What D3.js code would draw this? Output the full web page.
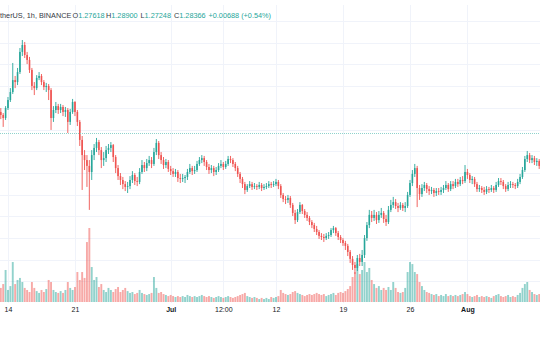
<!DOCTYPE html>
<html><head><meta charset="utf-8">
<script src="https://cdn.jsdelivr.net/npm/d3@7"></script>
<style>html,body{margin:0;padding:0;background:#fff;overflow:hidden}</style>
</head><body><svg id="c" width="540" height="340"></svg>
<script>
// 6-hour candles, first candle 2021-06-13 06:00 UTC
const opens=[1.381,1.367,1.353,1.399,1.436,1.473,1.528,1.519,1.565,1.658,
1.690,1.644,1.621,1.575,1.501,1.491,1.538,1.547,1.519,1.496,
1.501,1.482,1.353,1.390,1.408,1.390,1.404,1.381,1.390,1.335,
1.381,1.427,1.381,1.335,1.252,1.182,1.159,1.132,1.104,1.182,
1.215,1.242,1.205,1.159,1.168,1.205,1.215,1.228,1.173,1.122,
1.085,1.067,1.048,1.035,1.039,1.067,1.090,1.062,1.058,1.104,
1.136,1.122,1.145,1.159,1.141,1.196,1.238,1.182,1.159,1.136,
1.150,1.118,1.108,1.095,1.104,1.076,1.072,1.076,1.081,1.104,
1.122,1.108,1.113,1.141,1.159,1.168,1.150,1.127,1.113,1.122,
1.104,1.113,1.132,1.141,1.127,1.141,1.164,1.159,1.141,1.122,
1.095,1.072,1.048,1.021,1.039,1.048,1.035,1.039,1.035,1.044,
1.030,1.035,1.039,1.048,1.044,1.048,1.058,1.039,0.998,0.979,
0.975,0.984,0.952,0.915,0.882,0.919,0.952,0.924,0.906,0.892,
0.873,0.859,0.841,0.827,0.809,0.804,0.799,0.809,0.813,0.836,
0.845,0.822,0.804,0.790,0.776,0.763,0.735,0.703,0.675,0.661,
0.707,0.689,0.721,0.799,0.859,0.906,0.892,0.906,0.882,0.906,
0.915,0.887,0.873,0.929,0.952,0.965,0.947,0.938,0.952,0.938,
0.947,0.998,1.053,1.095,1.122,1.030,1.002,1.030,1.044,1.025,
1.016,1.021,1.007,1.016,1.012,1.021,1.030,1.044,1.025,1.048,
1.039,1.058,1.048,1.067,1.062,1.104,1.090,1.067,1.072,1.048,
1.025,1.030,1.021,1.012,1.025,1.021,1.030,1.021,1.044,1.062,
1.058,1.039,1.025,1.044,1.048,1.044,1.039,1.058,1.081,1.113,
1.164,1.182,1.159,1.168,1.150,1.155];
const highs=[1.399,1.376,1.408,1.450,1.491,1.607,1.547,1.584,1.676,1.713,
1.704,1.658,1.635,1.584,1.519,1.551,1.565,1.556,1.528,1.515,
1.510,1.491,1.408,1.427,1.418,1.418,1.413,1.404,1.399,1.395,
1.441,1.431,1.390,1.344,1.270,1.205,1.182,1.159,1.205,1.233,
1.261,1.252,1.219,1.196,1.224,1.233,1.242,1.233,1.182,1.136,
1.099,1.081,1.062,1.058,1.085,1.108,1.099,1.081,1.122,1.159,
1.150,1.164,1.178,1.173,1.215,1.256,1.247,1.196,1.173,1.164,
1.159,1.132,1.122,1.118,1.113,1.095,1.095,1.090,1.118,1.141,
1.132,1.132,1.155,1.173,1.182,1.178,1.159,1.141,1.136,1.132,
1.127,1.145,1.159,1.150,1.155,1.178,1.178,1.168,1.150,1.132,
1.104,1.081,1.058,1.048,1.062,1.058,1.053,1.048,1.058,1.053,
1.048,1.053,1.062,1.058,1.062,1.072,1.067,1.048,1.007,0.993,
0.998,0.993,0.961,0.929,0.933,0.965,0.956,0.933,0.919,0.901,
0.882,0.869,0.855,0.836,0.822,0.818,0.822,0.827,0.845,0.855,
0.850,0.832,0.813,0.799,0.786,0.772,0.744,0.716,0.689,0.721,
0.726,0.744,0.813,0.873,0.929,0.924,0.929,0.919,0.924,0.938,
0.924,0.906,0.947,0.975,0.989,0.979,0.961,0.965,0.961,0.965,
1.012,1.067,1.113,1.141,1.132,1.044,1.048,1.058,1.053,1.039,
1.035,1.030,1.030,1.030,1.035,1.044,1.062,1.053,1.062,1.062,
1.072,1.072,1.081,1.085,1.136,1.118,1.099,1.085,1.081,1.058,
1.044,1.039,1.035,1.039,1.035,1.044,1.039,1.058,1.076,1.076,
1.067,1.048,1.058,1.062,1.058,1.053,1.072,1.095,1.127,1.178,
1.201,1.192,1.182,1.178,1.168,1.164];
const lows=[1.348,1.312,1.344,1.390,1.427,1.464,1.491,1.505,1.556,1.639,
1.630,1.602,1.561,1.482,1.459,1.482,1.528,1.505,1.482,1.473,
1.436,1.298,1.335,1.376,1.372,1.376,1.362,1.358,1.284,1.321,
1.372,1.362,1.316,1.224,1.021,1.113,1.035,0.929,1.067,1.159,
1.196,1.182,1.122,1.132,1.150,1.187,1.196,1.150,1.099,1.067,
1.044,1.025,1.016,1.007,1.025,1.053,1.044,1.039,1.048,1.095,
1.104,1.108,1.132,1.122,1.132,1.182,1.164,1.141,1.118,1.122,
1.104,1.090,1.081,1.081,1.058,1.053,1.058,1.053,1.067,1.095,
1.090,1.095,1.104,1.132,1.145,1.132,1.113,1.095,1.099,1.085,
1.090,1.104,1.122,1.113,1.118,1.132,1.145,1.127,1.108,1.081,
1.053,1.030,1.002,1.012,1.030,1.021,1.025,1.021,1.025,1.016,
1.021,1.025,1.030,1.030,1.035,1.039,1.025,0.984,0.965,0.956,
0.961,0.938,0.901,0.864,0.873,0.910,0.910,0.892,0.878,0.859,
0.845,0.827,0.813,0.795,0.790,0.781,0.790,0.795,0.804,0.822,
0.809,0.790,0.776,0.763,0.744,0.716,0.684,0.652,0.633,0.647,
0.670,0.670,0.707,0.786,0.845,0.873,0.878,0.864,0.869,0.892,
0.869,0.855,0.864,0.919,0.938,0.933,0.919,0.929,0.924,0.919,
0.938,0.989,1.039,1.081,0.942,0.975,0.989,1.016,1.007,0.998,
1.002,0.989,0.993,0.998,0.998,1.007,1.021,1.012,1.016,1.025,
1.030,1.035,1.039,1.048,1.053,1.072,1.053,1.048,1.035,1.012,
1.012,1.007,0.998,1.002,1.007,1.012,1.007,1.012,1.035,1.044,
1.025,1.012,1.016,1.030,1.030,1.025,1.030,1.048,1.072,1.104,
1.150,1.145,1.145,1.136,1.132,1.118];
const closes=[1.367,1.353,1.399,1.436,1.473,1.528,1.519,1.565,1.658,1.690,
1.644,1.621,1.575,1.501,1.491,1.538,1.547,1.519,1.496,1.501,
1.482,1.353,1.390,1.408,1.390,1.404,1.381,1.390,1.335,1.381,
1.427,1.381,1.335,1.252,1.182,1.159,1.132,1.104,1.182,1.215,
1.242,1.205,1.159,1.168,1.205,1.215,1.228,1.173,1.122,1.085,
1.067,1.048,1.035,1.039,1.067,1.090,1.062,1.058,1.104,1.136,
1.122,1.145,1.159,1.141,1.196,1.238,1.182,1.159,1.136,1.150,
1.118,1.108,1.095,1.104,1.076,1.072,1.076,1.081,1.104,1.122,
1.108,1.113,1.141,1.159,1.168,1.150,1.127,1.113,1.122,1.104,
1.113,1.132,1.141,1.127,1.141,1.164,1.159,1.141,1.122,1.095,
1.072,1.048,1.021,1.039,1.048,1.035,1.039,1.035,1.044,1.030,
1.035,1.039,1.048,1.044,1.048,1.058,1.039,0.998,0.979,0.975,
0.984,0.952,0.915,0.882,0.919,0.952,0.924,0.906,0.892,0.873,
0.859,0.841,0.827,0.809,0.804,0.799,0.809,0.813,0.836,0.845,
0.822,0.804,0.790,0.776,0.763,0.735,0.703,0.675,0.661,0.707,
0.689,0.721,0.799,0.859,0.906,0.892,0.906,0.882,0.906,0.915,
0.887,0.873,0.929,0.952,0.965,0.947,0.938,0.952,0.938,0.947,
0.998,1.053,1.095,1.122,1.030,1.002,1.030,1.044,1.025,1.016,
1.021,1.007,1.016,1.012,1.021,1.030,1.044,1.025,1.048,1.039,
1.058,1.048,1.067,1.062,1.104,1.090,1.067,1.072,1.048,1.025,
1.030,1.021,1.012,1.025,1.021,1.030,1.021,1.044,1.062,1.058,
1.039,1.025,1.044,1.048,1.044,1.039,1.058,1.081,1.113,1.164,
1.182,1.159,1.168,1.150,1.155,1.132];
const volumes=[7.6,9.7,17.3,6.5,8.6,21.6,9.7,11.9,13.0,10.8,
7.6,6.5,5.4,10.8,7.6,5.9,4.9,6.5,5.4,7.0,
11.9,10.8,6.5,5.4,4.9,5.9,4.9,6.5,10.8,7.6,
6.5,8.1,16.2,11.9,16.2,13.0,32.4,40.0,18.9,11.9,
13.5,8.1,9.7,6.5,5.4,7.6,6.5,5.4,7.0,8.1,
5.4,6.5,7.6,5.9,4.9,5.4,4.3,4.9,6.5,4.9,
4.3,3.8,4.3,4.9,13.5,7.6,4.9,5.4,4.3,3.8,
3.2,3.8,3.2,2.7,3.2,2.7,3.2,2.7,3.8,3.2,
2.7,3.2,2.7,3.2,3.8,3.2,2.7,3.2,2.7,2.2,
2.7,3.2,2.7,2.2,2.7,3.2,2.7,2.2,2.7,3.2,
3.8,4.3,4.9,3.2,2.7,2.2,2.7,2.2,1.6,2.2,
1.6,2.2,1.6,2.7,2.2,2.7,3.2,6.5,4.9,4.3,
3.8,4.3,5.4,5.9,4.9,4.3,3.8,3.2,3.8,4.3,
3.8,4.3,4.9,4.3,3.8,4.3,3.2,3.8,4.3,4.9,
3.8,4.9,5.4,4.9,5.9,7.0,8.6,13.5,16.2,20.5,
15.1,17.3,21.6,16.2,18.4,11.9,9.7,7.6,8.6,6.5,
7.6,6.5,8.1,6.5,10.8,7.6,5.4,4.9,5.4,7.6,
16.2,21.6,20.5,16.2,15.1,10.8,8.6,6.5,5.4,4.9,
4.3,3.8,4.3,3.2,3.8,3.2,4.3,3.2,3.8,3.2,
3.8,3.2,3.8,4.3,5.4,4.3,3.2,2.7,3.2,3.8,
2.7,3.2,2.7,3.2,2.7,2.2,3.2,3.8,4.3,3.2,
2.7,3.2,3.8,2.7,3.2,2.7,3.8,4.9,7.6,9.7,
10.8,6.5,5.4,4.3,3.8,4.3];
const tickDates=[Date.UTC(2021,5,14),Date.UTC(2021,5,21),Date.UTC(2021,6,1),Date.UTC(2021,6,6,12),Date.UTC(2021,6,12),Date.UTC(2021,6,19),Date.UTC(2021,6,26),Date.UTC(2021,7,1)];
const tickLabels=["14","21","Jul","12:00","12","19","26","Aug"];
const gridPrices=[0.6,0.7,0.8,0.9,1.0,1.1,1.2,1.3,1.4,1.5,1.6,1.7,1.8];
const symbolText="therUS, 1h, BINANCE";
const legendKeys=["O","H","L","C"];
const legendVals=["1.27618","1.28900","1.27248","1.28366"];
const changeText="+0.00688 (+0.54%)";
const lastPrice=1.28366;

const UP="#26a69a", DOWN="#ef5350";
const startMs=Date.UTC(2021,5,13,6), stepMs=6*3600e3;
const data=closes.map((c,i)=>({t:new Date(startMs+i*stepMs),o:opens[i],h:highs[i],l:lows[i],c:c,v:volumes[i]}));

const svg=d3.select("#c");
const x=d3.scaleTime().domain([new Date(Date.UTC(2021,5,13,4)),new Date(Date.UTC(2021,7,8,14))]).range([0,540]);
const y=d3.scaleLinear().domain([0.6,1.8]).range([281.2,21.15]);
const yv=d3.scaleLinear().domain([0,40]).range([302,228]);

// grid
const grid=svg.append("g").attr("stroke","#f0f3fa").attr("stroke-width",1);
grid.selectAll("line.h").data(gridPrices).join("line").attr("class","h")
  .attr("x1",0).attr("x2",540).attr("y1",d=>Math.round(y(d))+0.5).attr("y2",d=>Math.round(y(d))+0.5);
grid.selectAll("line.v").data(tickDates).join("line").attr("class","v")
  .attr("y1",5).attr("y2",303).attr("x1",d=>Math.round(x(new Date(d)))+0.5).attr("x2",d=>Math.round(x(new Date(d)))+0.5);

// volume
const bw=1.9;
svg.append("g").selectAll("rect").data(data).join("rect")
  .attr("x",d=>x(d.t)-bw/2).attr("width",bw)
  .attr("y",d=>yv(d.v)).attr("height",d=>yv(0)-yv(d.v))
  .attr("fill",d=>d.c>=d.o?UP:DOWN).attr("fill-opacity",0.5);

// candles
const cg=svg.append("g");
cg.selectAll("line").data(data).join("line")
  .attr("x1",d=>x(d.t)).attr("x2",d=>x(d.t))
  .attr("y1",d=>y(d.h)).attr("y2",d=>y(d.l))
  .attr("stroke",d=>d.c>=d.o?UP:DOWN).attr("stroke-width",0.9);
const cw=1.6;
cg.selectAll("rect").data(data).join("rect")
  .attr("x",d=>x(d.t)-cw/2).attr("width",cw)
  .attr("y",d=>y(Math.max(d.o,d.c)))
  .attr("height",d=>Math.max(0.8,Math.abs(y(d.o)-y(d.c))))
  .attr("fill",d=>d.c>=d.o?UP:DOWN);

// last price dotted line
svg.append("line").attr("x1",0).attr("x2",540)
  .attr("y1",Math.round(y(lastPrice))+0.5).attr("y2",Math.round(y(lastPrice))+0.5)
  .attr("stroke","#8fd3cc").attr("stroke-width",1).attr("stroke-dasharray","1,1");

// time axis
const ax=svg.append("g").attr("transform","translate(0,303)")
  .call(d3.axisBottom(x).tickValues(tickDates.map(d=>new Date(d))).tickSize(0).tickPadding(4)
  .tickFormat((d,i)=>tickLabels[i]));
ax.select(".domain").remove();
ax.selectAll("text").attr("fill","#131722").style("font-family","'Liberation Sans', Arial, sans-serif")
  .style("font-size","7px").style("font-weight",(d,i)=>/[A-Za-z]/.test(tickLabels[i])?"bold":"normal");

// legend
const lg=svg.append("text").attr("y",18).style("font-family","'Liberation Sans', Arial, sans-serif").style("font-size","7.3px");
lg.append("tspan").attr("x",0).attr("fill","#363a45").text(symbolText);
const keyX=[72.5,106,140.5,174];
legendKeys.forEach((k,i)=>{
  lg.append("tspan").attr("x",keyX[i]).attr("fill","#363a45").text(k);
  lg.append("tspan").attr("fill",UP).text(legendVals[i]);
});
lg.append("tspan").attr("x",208.5).attr("fill",UP).text(changeText);
</script></body></html>
